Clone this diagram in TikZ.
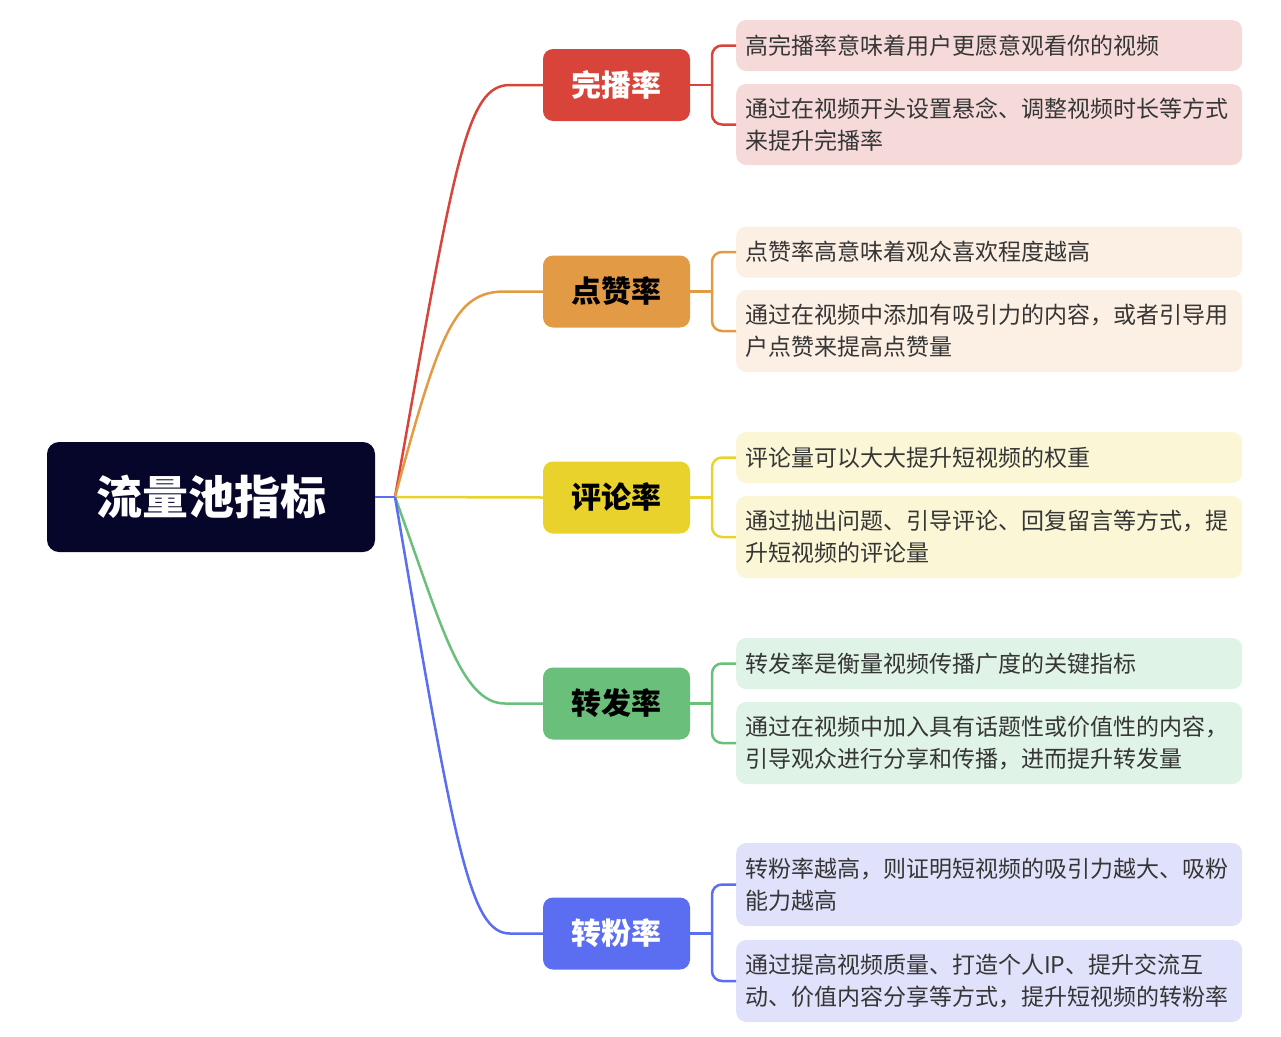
\documentclass[tikz,border=0pt]{standalone}
\usepackage{fontspec}
\newfontfamily\cjk{Noto Sans CJK SC}
\definecolor{rootc}{HTML}{06062A}
\definecolor{cred}{HTML}{D9443A}
\definecolor{corange}{HTML}{E39A45}
\definecolor{cyellow}{HTML}{EAD22C}
\definecolor{cgreen}{HTML}{6ABF7B}
\definecolor{cblue}{HTML}{5B6DF0}
\definecolor{lred}{HTML}{F6DADA}
\definecolor{lorange}{HTML}{FCEFE3}
\definecolor{lyellow}{HTML}{FBF6D6}
\definecolor{lgreen}{HTML}{DFF3E6}
\definecolor{lblue}{HTML}{E0E2FB}
\definecolor{leaftext}{HTML}{363636}
\begin{document}
\begin{tikzpicture}[x=1pt,y=-1pt,
  rootbox/.style={rectangle, rounded corners=12pt, fill=rootc, text=white, minimum width=328pt, minimum height=110pt, inner sep=0pt, font=\cjk\bfseries\fontsize{46}{46}\selectfont},
  topic/.style={rectangle, rounded corners=10pt, minimum width=147pt, minimum height=72pt, inner sep=0pt, font=\cjk\bfseries\fontsize{30}{30}\selectfont},
  leaf/.style={rectangle, rounded corners=10pt, text width=488pt, inner xsep=9pt, inner ysep=0pt, align=left, anchor=west, font=\cjk\fontsize{23}{32}\selectfont, text=leaftext},
  conn/.style={line width=2.5pt},
  brk/.style={line width=2.5pt, rounded corners=10pt}
]
\useasboundingbox (0,0) rectangle (1281,1036);

% root
\node[rootbox] (root) at (211,497) {流量池指标};
\coordinate (j) at (395,497);

% topics
\node[topic, fill=cred, text=white] (c1) at (616.5,85) {完播率};
\node[topic, fill=corange, text=black] (c2) at (616.5,291.5) {点赞率};
\node[topic, fill=cyellow, text=black] (c3) at (616.5,497.5) {评论率};
\node[topic, fill=cgreen, text=black] (c4) at (616.5,703.5) {转发率};
\node[topic, fill=cblue, text=white] (c5) at (616.5,933.5) {转粉率};

% leaves
\node[leaf, fill=lred, minimum height=51pt] (l11) at (736,45.5) {高完播率意味着用户更愿意观看你的视频};
\node[leaf, fill=lred, minimum height=81pt] (l12) at (736,124.5) {通过在视频开头设置悬念、调整视频时长等方式\\来提升完播率};
\node[leaf, fill=lorange, minimum height=51pt] (l21) at (736,252) {点赞率高意味着观众喜欢程度越高};
\node[leaf, fill=lorange, minimum height=82pt] (l22) at (736,331) {通过在视频中添加有吸引力的内容，或者引导用\\户点赞来提高点赞量};
\node[leaf, fill=lyellow, minimum height=51pt] (l31) at (736,457.5) {评论量可以大大提升短视频的权重};
\node[leaf, fill=lyellow, minimum height=82pt] (l32) at (736,537) {通过抛出问题、引导评论、回复留言等方式，提\\升短视频的评论量};
\node[leaf, fill=lgreen, minimum height=51pt] (l41) at (736,663.5) {转发率是衡量视频传播广度的关键指标};
\node[leaf, fill=lgreen, minimum height=82pt] (l42) at (736,743) {通过在视频中加入具有话题性或价值性的内容，\\引导观众进行分享和传播，进而提升转发量};
\node[leaf, fill=lblue, minimum height=83pt] (l51) at (736,884.5) {转粉率越高，则证明短视频的吸引力越大、吸粉\\能力越高};
\node[leaf, fill=lblue, minimum height=82pt] (l52) at (736,981) {通过提高视频质量、打造个人IP、提升交流互\\动、价值内容分享等方式，提升短视频的转粉率};

% main connectors
\draw[conn, cred] (j) .. controls (455,160) and (466,85) .. (510,85) -- (c1.west);
\draw[conn, corange] (j) .. controls (440,330) and (455,291.5) .. (505,291.5) -- (c2.west);
\draw[conn, cyellow] (j) -- (c3.west);
\draw[conn, cgreen] (j) .. controls (440,620) and (460,703.5) .. (505,703.5) -- (c4.west);
\draw[conn, cblue] (j) .. controls (455,850) and (470,933.5) .. (510,933.5) -- (c5.west);
\draw[conn, cblue] (root.east) -- (j);

% brackets
\draw[conn, cred] (c1.east) -- (712,85);
\draw[brk, cred] (l11.west) -- (712,45.5) -- (712,124.5) -- (l12.west);
\draw[conn, corange] (c2.east) -- (712,291.5);
\draw[brk, corange] (l21.west) -- (712,252) -- (712,331) -- (l22.west);
\draw[conn, cyellow] (c3.east) -- (712,497.5);
\draw[brk, cyellow] (l31.west) -- (712,457.5) -- (712,537) -- (l32.west);
\draw[conn, cgreen] (c4.east) -- (712,703.5);
\draw[brk, cgreen] (l41.west) -- (712,663.5) -- (712,743) -- (l42.west);
\draw[conn, cblue] (c5.east) -- (712,933.5);
\draw[brk, cblue] (l51.west) -- (712,884.5) -- (712,981) -- (l52.west);
\end{tikzpicture}
\end{document}
